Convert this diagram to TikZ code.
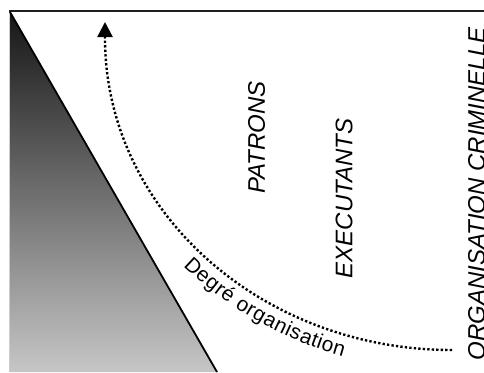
\documentclass[tikz,border=0pt]{standalone}
\usepackage{fontspec}
\setmainfont{Liberation Sans}
\usetikzlibrary{arrows.meta,decorations.text}
\definecolor{shadetop}{RGB}{22,22,22}
\definecolor{shadebot}{RGB}{198,198,198}
\definecolor{framegray}{RGB}{205,205,205}
\tikzset{
  biglabel/.style={font=\fontsize{24}{26}\selectfont\itshape, inner sep=0pt, rotate=90},
  dotline/.style={line width=2.4pt, dash pattern=on 2.3pt off 2.2pt},
  edgeline/.style={line width=1.8pt, black}
}
\begin{document}
\begin{tikzpicture}[x=1pt,y=-1pt]
\useasboundingbox (0,0) rectangle (484,372);
% frame
\draw[framegray, line width=0.8pt] (9.6,11) -- (9.6,372);
\draw[edgeline, line width=2pt, color={rgb,255:red,30;green,30;blue,30}] (9,11) -- (484,11);
% shaded wedge
\shade[top color=shadetop, bottom color=shadebot] (10,12) -- (217,372) -- (10,372) -- cycle;
\draw[edgeline] (10,12) -- (217,372);
% labels
\node[biglabel] (patrons) at (256.5,137.5) {PATRONS};
\node[biglabel] (exec) at (344,198.5) {EXECUTANTS};
\node[biglabel, anchor=north] (orga) at (468,194) {ORGANISATION CRIMINELLE};
% dotted arrow
\coordinate (start) at (452,350);
\coordinate (bend) at (105,38);
\coordinate (tip) at (105,22);
\draw[dotline, -{Triangle[width=15pt,length=15pt]}] (start) .. controls (260.4,350) and (105,210.3) .. (bend) -- (tip);
% text along the curve
\path[decorate, decoration={text along path,
  text={|\fontsize{20.8}{24}\selectfont|Degré organisation},
  raise=-21.5pt, text align={left indent=238pt}}]
  (bend) .. controls (105,210.3) and (260.4,350) .. (start);
\end{tikzpicture}
\end{document}
